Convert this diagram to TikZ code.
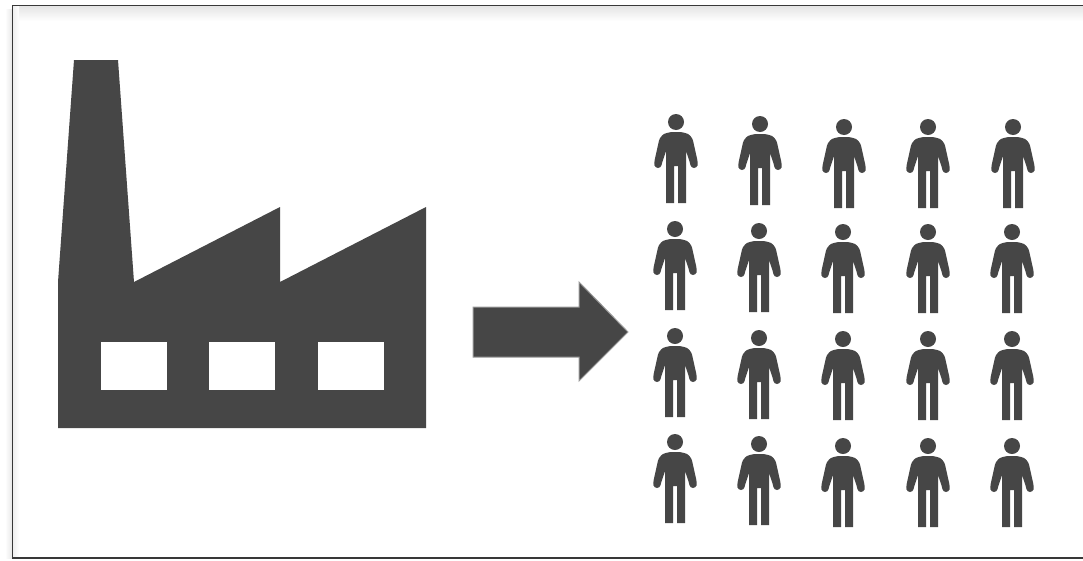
\documentclass[tikz,border=0pt]{standalone}
\usetikzlibrary{calc}
\definecolor{icongray}{HTML}{464646}
\begin{document}
\begin{tikzpicture}[x=1pt,y=-1pt,
  icon/.style={fill=icongray},
  person/.pic={
    \fill[icon] (0,0) circle (8pt);
    \fill[icon] (-2,81) -- (-10,81) -- (-10,29) [rounded corners=1.5pt] -- (-14,41)
      [rounded corners=3pt] -- (-15,46) -- (-21,46) -- (-22,41)
      [rounded corners=5pt] -- (-16,14) -- (-8,10) -- (8,10) -- (16,14)
      [rounded corners=3pt] -- (22,41) -- (21,46) -- (15,46)
      [rounded corners=1.5pt] -- (14,41) -- (10,29)
      [sharp corners] -- (10,81) -- (2,81) -- (2,44) -- (-2,44) -- cycle;
  }]
  \useasboundingbox (0,0) rectangle (1083,560);
  % frame with its soft edge
  \fill[white] (0,0) rectangle (1083,560);
  \shade[top color=black!11,bottom color=white] (12,5) rectangle (1083,21);
  \shade[left color=black!7,right color=white] (12,5) rectangle (19,558);
  \shade[left color=white,right color=black!9] (5,9) rectangle (12,558);
  \draw[black!78,line width=1.2pt] (1083,5.5) -- (12.5,5.5) -- (12.5,558) -- (1083,558);
  % factory
  \fill[icon] (74,60) -- (118,60) -- (134,282) -- (280,207) -- (280,282) -- (426,207)
    -- (426,428) -- (58,428) -- (58,282) -- cycle;
  \foreach \wx in {101,209,318}{\fill[white] (\wx,342) rectangle ++(65.5,48);}
  % block arrow
  \filldraw[icon,draw=black!40,line width=1pt] (473,307) -- (579,307) -- (579,282)
    -- (628,332) -- (579,381) -- (579,357) -- (473,357) -- cycle;
  % crowd
  \foreach \px/\py in {676/122,760/124,844/127,928/127,1013/127,
    675/229,759/231,843/232,928/232,1012/232,
    675/336,759/338,843/339,928/339,1012/339,
    675/442,759/444,843/446,928/446,1012/446}{
    \pic at (\px,\py) {person};
  }
\end{tikzpicture}
\end{document}
